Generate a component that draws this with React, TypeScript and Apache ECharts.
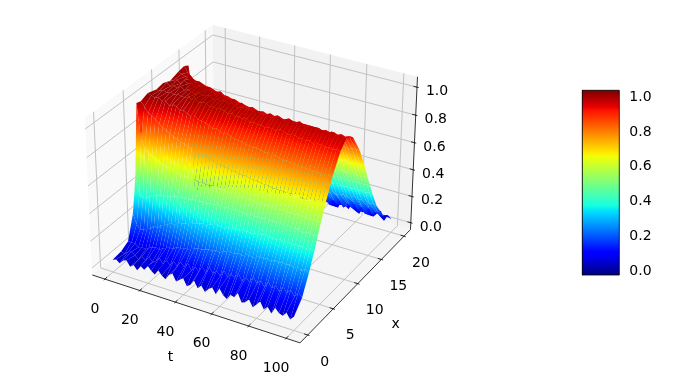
import React, { useEffect, useRef } from "react";
import * as echarts from "echarts";

const tTicks = [0, 20, 40, 60, 80, 100];
const xTicks = [0, 5, 10, 15, 20];
const zTicks = [0, 0.2, 0.4, 0.6, 0.8, 1.0];
const cbTicks = [0, 0.2, 0.4, 0.6, 0.8, 1.0];
const tLim = [-7.3, 107.3];
const xLim = [-1.46, 21.46];
const zLim = [-0.052, 1.074];
const cbRange = [-0.029, 1.031];
const tGrid = [0,2,4,6,8,10,12,14,16,18,20,22,24,26,28,30,32,34,36,38,40,42,44,46,48,50,52,54,56,58,60,62,64,66,68,70,72,74,76,78,80,82,84,86,88,90,92,94,96,98,100];
const xGrid = [0,1.5,2.75,3.75,4.4,5,5.75,7,8.5,9.75,11,12.5,13.6,14.4,15,15.6,16.5,18,20];
// surface heights in hundredths, one row per value of t
const zRows = [
[4,5,8,25,50,101,100,102,100,101,99,101,102,100,5,3,6,4,5],
[5,4,8,18,39,76,97,101,100,102,100,100,98,75,26,6,4,5,3],
[3,6,8,15,36,71,93,100,101,100,101,99,96,71,33,9,3,6,6],
[6,7,6,16,37,67,92,101,100,101,99,100,93,69,37,12,5,4,2],
[7,5,7,17,39,66,90,99,101,100,102,99,91,65,38,16,8,2,7],
[3,3,6,18,40,65,87,100,100,102,100,98,89,65,40,17,6,1,4],
[5,6,8,21,41,63,86,97,101,100,101,98,85,63,41,20,7,5,3],
[2,4,9,20,42,62,84,99,100,101,99,97,85,62,41,22,8,3,8],
[6,7,10,23,43,61,83,98,100,100,100,96,83,60,42,25,11,7,4],
[4,5,9,24,42,62,81,96,101,99,101,96,81,61,42,25,10,4,6],
[8,6,11,25,44,60,80,97,100,101,99,95,80,59,44,27,12,6,3],
[5,9,12,27,44,59,79,95,101,100,100,94,79,60,43,28,13,3,8],
[3,5,13,26,45,59,78,94,99,100,99,95,78,59,44,28,13,8,5],
[7,9,13,29,45,58,77,95,100,101,98,93,77,58,45,30,14,5,2],
[4,6,15,29,46,59,76,93,100,99,99,93,77,59,44,30,15,9,7],
[2,10,15,30,45,58,75,93,98,100,98,92,75,58,46,31,15,6,4],
[6,7,16,31,46,58,74,92,99,99,98,92,75,57,45,32,16,10,9],
[8,11,16,32,46,57,74,91,98,100,97,91,74,58,46,32,17,5,3],
[3,8,17,32,46,58,73,90,99,99,98,90,73,57,45,33,18,9,6],
[5,12,18,33,47,57,73,90,98,100,96,90,73,58,47,33,17,12,8],
[7,7,19,34,46,57,72,89,97,99,97,89,72,56,46,34,19,7,2],
[2,11,19,33,47,58,71,88,98,98,96,89,72,57,47,34,20,11,5],
[4,8,20,35,47,56,71,89,96,99,95,88,71,56,46,35,20,8,7],
[8,13,21,35,48,57,70,87,97,98,96,87,70,57,47,35,21,13,3],
[3,9,20,36,47,56,70,87,96,99,95,87,70,56,46,36,22,9,9],
[6,14,22,35,47,57,69,86,97,98,94,86,70,56,47,36,22,12,4],
[2,10,21,36,48,56,69,86,95,99,95,86,69,55,46,37,23,14,6],
[5,13,23,36,47,56,68,85,96,98,94,85,69,56,47,36,23,9,2],
[7,10,23,37,48,55,68,85,95,98,95,85,68,55,46,37,24,13,8],
[3,15,24,37,47,56,68,84,96,99,94,84,68,55,47,38,24,11,5],
[8,11,23,37,48,55,67,85,94,97,95,84,67,56,46,37,25,15,3],
[4,14,25,38,47,56,67,84,95,98,94,84,67,54,47,38,25,10,7],
[2,12,24,38,48,55,67,83,95,99,93,83,67,55,46,38,26,14,10],
[6,16,25,37,47,56,66,84,94,98,95,83,66,55,47,38,25,12,4],
[5,11,26,38,48,54,66,82,96,97,94,83,67,54,46,39,26,16,6],
[9,15,25,38,47,55,66,83,95,99,94,82,66,55,47,38,27,11,2],
[3,12,26,39,48,55,65,82,94,98,95,82,66,54,46,39,26,15,8],
[4,17,27,39,47,55,65,81,94,98,93,82,66,55,47,38,27,13,5],
[7,13,27,38,48,54,65,82,95,99,94,81,66,54,46,39,28,17,3],
[2,16,27,39,47,55,65,81,93,97,94,82,65,54,47,38,27,12,9],
[5,12,26,38,48,55,64,81,94,98,93,81,66,55,46,39,28,16,6],
[8,17,28,39,47,54,65,80,93,99,94,81,65,54,47,39,28,14,2],
[3,13,27,38,48,55,64,81,94,97,93,80,66,54,46,38,27,18,7],
[6,16,28,39,47,54,64,80,92,98,94,81,65,55,47,39,28,13,4],
[2,12,27,38,47,55,64,80,93,98,93,80,65,54,46,38,29,16,8],
[7,17,28,39,48,54,63,79,93,97,94,80,66,54,47,39,28,12,3],
[4,13,27,38,46,55,64,80,92,99,93,80,65,55,46,38,28,17,6],
[3,16,28,39,47,54,64,79,93,97,94,79,65,54,47,39,29,13,9],
[6,12,26,38,47,55,63,79,92,98,93,80,66,54,46,38,27,16,2],
[2,16,28,39,46,54,64,80,93,97,94,80,65,55,47,39,28,14,7],
[5,13,26,38,47,55,64,79,92,98,94,80,66,54,46,38,27,15,5],
];

const FONT = "14px 'DejaVu Sans'";
const tr = tLim[1] - tLim[0], xr = xLim[1] - xLim[0], zr = zLim[1] - zLim[0];
const ASP = [1.1905, 1.1905, 0.8929];
const U = [0.86603, 0.5, 0];
const V = [-0.25, 0.43301, 0.86603];
const W = [0.43301, -0.75, 0.5];
const nz = (t: number, x: number, z: number) => [
  ((t - tLim[0]) / tr - 0.5) * ASP[0],
  ((x - xLim[0]) / xr - 0.5) * ASP[1],
  ((z - zLim[0]) / zr - 0.5) * ASP[2],
];
const dot = (a: number[], b: number[]) => a[0] * b[0] + a[1] * b[1] + a[2] * b[2];
const depth = (t: number, x: number, z: number) => dot(W, nz(t, x, z));
const project = (t: number, x: number, z: number) => {
  const d = nz(t, x, z);
  const s = 10 - dot(W, d);
  return [dot(U, d) / s, dot(V, d) / s];
};

const jetR = [[0, 0], [0.35, 0], [0.66, 1], [0.89, 1], [1, 0.5]];
const jetG = [[0, 0], [0.125, 0], [0.375, 1], [0.64, 1], [0.91, 0], [1, 0]];
const jetB = [[0, 0.5], [0.11, 1], [0.34, 1], [0.65, 0], [1, 0]];
const jetStops = [0, 0.11, 0.125, 0.34, 0.35, 0.375, 0.64, 0.65, 0.66, 0.89, 0.91, 1];
const seg = (m: number[][], f: number) => {
  for (let i = 1; i < m.length; i++) {
    if (f <= m[i][0]) return m[i - 1][1] + ((m[i][1] - m[i - 1][1]) * (f - m[i - 1][0])) / (m[i][0] - m[i - 1][0]);
  }
  return m[m.length - 1][1];
};
const jetF = (f0: number) => {
  const f = Math.max(0, Math.min(1, f0));
  return `rgb(${Math.round(seg(jetR, f) * 255)},${Math.round(seg(jetG, f) * 255)},${Math.round(seg(jetB, f) * 255)})`;
};
const jet = (z: number) => jetF((z - cbRange[0]) / (cbRange[1] - cbRange[0]));

const Z = (r: number, c: number) => zRows[r][c] / 100;
const cells: number[][] = [];
for (let r = 0; r < tGrid.length - 1; r++) {
  for (let c = 0; c < xGrid.length - 1; c++) {
    const m =
      (depth(tGrid[r], xGrid[c], Z(r, c)) + depth(tGrid[r + 1], xGrid[c], Z(r + 1, c)) +
        depth(tGrid[r], xGrid[c + 1], Z(r, c + 1)) + depth(tGrid[r + 1], xGrid[c + 1], Z(r + 1, c + 1))) / 4;
    cells.push([r, c, m]);
  }
}
cells.sort((a, b) => a[2] - b[2]);

const T0 = tLim[0], T1 = tLim[1], X0 = xLim[0], X1 = xLim[1], Z0 = zLim[0], Z1 = zLim[1];
const panes = [
  { c: "#f9f9f9", p: [[T0, X0, Z0], [T0, X1, Z0], [T0, X1, Z1], [T0, X0, Z1]] },
  { c: "#f2f2f2", p: [[T0, X1, Z0], [T1, X1, Z0], [T1, X1, Z1], [T0, X1, Z1]] },
  { c: "#f5f5f5", p: [[T0, X0, Z0], [T1, X0, Z0], [T1, X1, Z0], [T0, X1, Z0]] },
];
const gridPaths: number[][][] = [
  ...tTicks.map((t) => [[t, X0, Z0], [t, X1, Z0], [t, X1, Z1]]),
  ...xTicks.map((x) => [[T1, x, Z0], [T0, x, Z0], [T0, x, Z1]]),
  ...zTicks.map((z) => [[T0, X0, z], [T0, X1, z], [T1, X1, z]]),
];
const axisPaths: number[][][] = [
  [[T0, X0, Z0], [T1, X0, Z0]],
  [[T1, X0, Z0], [T1, X1, Z0]],
  [[T1, X1, Z0], [T1, X1, Z1]],
  ...tTicks.map((t) => [[t, X0 + (xr / 12) * 0.2, Z0], [t, X0 - (xr / 12) * 0.1, Z0]]),
  ...xTicks.map((x) => [[T1 - (tr / 12) * 0.2, x, Z0], [T1 + (tr / 12) * 0.1, x, Z0]]),
  ...zTicks.map((z) => [[T1 - (tr / 12) * 0.2, X1, z], [T1 + (tr / 12) * 0.1, X1, z]]),
];
const labels3d: any[] = [
  ...tTicks.map((t) => ({ s: String(t), p: [t, X0, Z0], o: [-10, 28.5] })),
  ...xTicks.map((x) => ({ s: String(x), p: [T1, x, Z0], o: [17, 25.5] })),
  ...zTicks.map((z) => ({ s: z.toFixed(1), p: [T1, X1, z], o: [20, 3] })),
];
const titles3d: any[] = [
  { s: "t", p: [50, X0, Z0], o: [-23, 48] },
  { s: "x", p: [T1, 10, Z0], o: [38, 39] },
];

const line3d = (api: any, path: number[][], stroke: string, lineWidth: number) => ({
  type: "polyline",
  shape: { points: path.map((p) => api.coord(project(p[0], p[1], p[2]))) },
  style: { stroke, lineWidth, fill: "none" },
});

export default function App() {
  const ref = useRef<HTMLDivElement>(null);
  useEffect(() => {
    const chart = echarts.init(ref.current!, null, { renderer: "svg" });
    const text3d = (arr: any[]) => (params: any, api: any) => {
      const it = arr[params.dataIndex];
      const q = api.coord(project(it.p[0], it.p[1], it.p[2]));
      return {
        type: "text",
        x: q[0] + it.o[0],
        y: q[1] + it.o[1],
        style: { text: it.s, font: FONT, fill: "#000", align: "center", verticalAlign: "middle" },
      };
    };
    const base = { type: "custom", coordinateSystem: "cartesian2d", xAxisIndex: 0, yAxisIndex: 0, silent: true, clip: false };
    chart.setOption({
      animation: false,
      grid: [
        { left: 0, top: 0, width: 683, height: 384 },
        { left: 582.3, top: 90.3, width: 37, height: 184.7 },
      ],
      xAxis: [
        { type: "value", min: -254.3 / 2000, max: (683 - 254.3) / 2000, show: false, gridIndex: 0 },
        { type: "value", min: 0, max: 1, show: false, gridIndex: 1 },
      ],
      yAxis: [
        { type: "value", min: (176.2 - 384) / 2000, max: 176.2 / 2000, show: false, gridIndex: 0 },
        {
          type: "value", gridIndex: 1, position: "right", min: cbRange[0], max: cbRange[1],
          splitLine: { show: false },
          axisLine: { show: true, lineStyle: { color: "#000", width: 0.8 } },
          axisTick: { show: true, length: 4, customValues: cbTicks, lineStyle: { color: "#000", width: 0.8 } },
          axisLabel: {
            show: true, margin: 10, color: "#000", fontSize: 14, fontFamily: "DejaVu Sans",
            customValues: cbTicks, formatter: (v: number) => v.toFixed(1),
          },
        },
      ],
      series: [
        {
          ...base, z: 1, data: panes.map((_, i) => [i, 0]),
          renderItem: (params: any, api: any) => {
            const pn = panes[params.dataIndex];
            return {
              type: "polygon",
              shape: { points: pn.p.map((p) => api.coord(project(p[0], p[1], p[2]))) },
              style: { fill: pn.c },
            };
          },
        },
        {
          ...base, z: 2, data: gridPaths.map((_, i) => [i, 0]),
          renderItem: (params: any, api: any) => line3d(api, gridPaths[params.dataIndex], "#c2c2c2", 1),
        },
        {
          ...base, z: 3, data: axisPaths.map((_, i) => [i, 0]),
          renderItem: (params: any, api: any) => line3d(api, axisPaths[params.dataIndex], "#000", 0.8),
        },
        {
          ...base, z: 4, data: cells.map((c) => [c[0], c[1]]),
          renderItem: (params: any, api: any) => {
            const r = api.value(0), c = api.value(1);
            const t0 = tGrid[r], t1 = tGrid[r + 1], x0 = xGrid[c], x1 = xGrid[c + 1];
            const a = api.coord(project(t0, x0, Z(r, c)));
            const b = api.coord(project(t1, x0, Z(r + 1, c)));
            const d = api.coord(project(t1, x1, Z(r + 1, c + 1)));
            const e = api.coord(project(t0, x1, Z(r, c + 1)));
            const zl = (Z(r, c) + Z(r + 1, c)) / 2, zh = (Z(r, c + 1) + Z(r + 1, c + 1)) / 2;
            const stops = [0, 0.25, 0.5, 0.75, 1].map((f) => ({ offset: f, color: jet(zl + (zh - zl) * f) }));
            const fill = new echarts.graphic.LinearGradient(
              (a[0] + b[0]) / 2, (a[1] + b[1]) / 2, (d[0] + e[0]) / 2, (d[1] + e[1]) / 2, stops, true,
            );
            return { type: "polygon", shape: { points: [a, b, d, e] }, style: { fill } };
          },
        },
        { ...base, z: 5, data: labels3d.map((_, i) => [i, 0]), renderItem: text3d(labels3d) },
        { ...base, z: 5, data: titles3d.map((_, i) => [i, 0]), renderItem: text3d(titles3d) },
        {
          type: "custom", coordinateSystem: "cartesian2d", xAxisIndex: 1, yAxisIndex: 1, silent: true, z: 6,
          data: [[0, 0]],
          renderItem: (_: any, api: any) => {
            const p = api.coord([0, cbRange[1]]);
            const q = api.coord([1, cbRange[0]]);
            return {
              type: "rect",
              shape: { x: p[0], y: p[1], width: q[0] - p[0], height: q[1] - p[1] },
              style: {
                fill: new echarts.graphic.LinearGradient(0, 1, 0, 0, jetStops.map((f) => ({ offset: f, color: jetF(f) }))),
                stroke: "#000",
                lineWidth: 0.8,
              },
            };
          },
        },
      ],
    });
    return () => chart.dispose();
  }, []);
  return <div ref={ref} style={{ position: "fixed", left: 0, top: 0, width: 683, height: 384 }} />;
}
